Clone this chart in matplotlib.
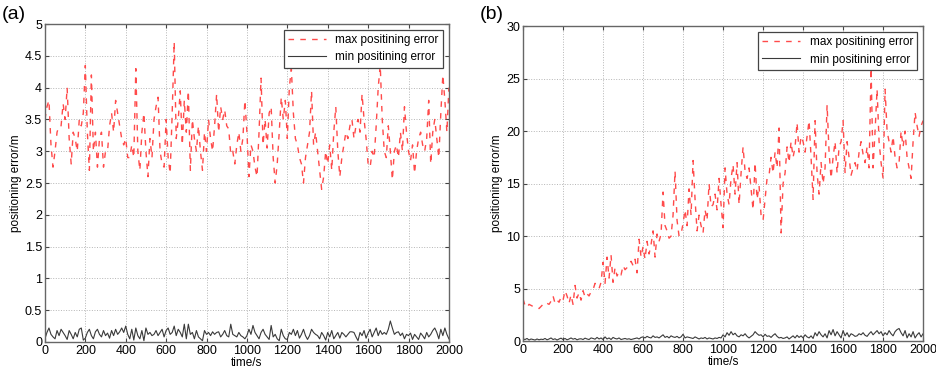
import numpy as np
import matplotlib.pyplot as plt

plt.rcParams['font.family'] = ['Liberation Sans', 'DejaVu Sans']

# time axis, one sample every 10 s
time_s = list(range(0, 2001, 10))

# (a) max / min positioning error
max_err_a = [
    3.5, 3.7, 3.8, 3.1, 2.75, 3.0, 3.3, 3.4, 3.4, 3.75,
    3.5, 4.0, 3.2, 2.8, 3.3, 3.2, 3.0, 3.5, 3.4, 3.6,
    4.35, 3.3, 2.7, 4.2, 3.0, 3.3, 2.75, 3.2, 3.3, 2.75,
    3.0, 3.0, 3.4, 3.6, 3.3, 3.8, 3.6, 3.4, 3.2, 3.1,
    3.2, 2.9, 2.9, 3.1, 2.9, 4.3, 3.0, 2.7, 3.3, 3.6,
    3.0, 2.6, 3.2, 2.9, 3.5, 3.7, 3.85, 3.0, 2.8, 2.75,
    3.5, 2.9, 2.65, 3.6, 4.72, 3.2, 3.5, 3.95, 3.1, 3.8,
    3.3, 3.95, 2.7, 3.5, 3.2, 3.0, 3.4, 3.0, 2.7, 3.3,
    3.0, 3.5, 3.2, 3.0, 3.4, 3.9, 3.3, 3.7, 3.5, 3.65,
    3.4, 3.35, 2.95, 3.0, 2.8, 3.1, 3.3, 3.0, 3.2, 3.8,
    3.3, 2.6, 3.1, 3.0, 2.75, 2.6, 3.3, 4.15, 3.1, 3.5,
    3.05, 3.6, 3.7, 2.9, 2.5, 2.8, 3.3, 3.85, 3.5, 3.8,
    3.2, 4.0, 4.3, 3.6, 3.2, 3.1, 2.9, 2.8, 2.5, 2.9,
    3.1, 3.3, 3.95, 3.1, 3.3, 3.0, 2.7, 2.4, 2.6, 3.0,
    2.8, 3.1, 2.7, 3.3, 3.7, 3.0, 2.6, 2.9, 3.1, 3.3,
    3.2, 3.4, 3.5, 3.2, 3.4, 3.5, 3.3, 3.9, 3.5, 3.2,
    2.8, 2.75, 3.0, 2.9, 3.4, 4.0, 4.35, 3.5, 3.0, 2.9,
    3.4, 3.0, 2.55, 3.0, 3.1, 2.9, 3.3, 3.0, 3.7, 3.3,
    3.0, 2.85, 3.1, 2.65, 3.0, 3.2, 3.3, 3.1, 3.0, 3.2,
    3.8, 2.8, 3.3, 3.5, 3.2, 2.9, 3.6, 4.2, 3.8, 3.3,
    4.0,
]
min_err_a = [
    0.05, 0.15, 0.22, 0.12, 0.08, 0.05, 0.18, 0.1, 0.2, 0.15,
    0.1, 0.04, 0.18, 0.12, 0.05, 0.15, 0.08, 0.2, 0.22, 0.03,
    0.06, 0.15, 0.2, 0.1, 0.05, 0.16, 0.2, 0.12, 0.08, 0.18,
    0.1, 0.14, 0.06, 0.18, 0.1, 0.2, 0.12, 0.16, 0.22, 0.15,
    0.25, 0.12, 0.05, 0.2, 0.03, 0.22, 0.1, 0.05, 0.18, 0.02,
    0.22, 0.12, 0.15, 0.1, 0.12, 0.18, 0.1, 0.15, 0.2, 0.08,
    0.18, 0.22, 0.12, 0.15, 0.25, 0.1, 0.2, 0.15, 0.08, 0.28,
    0.05, 0.28, 0.12, 0.15, 0.05, 0.18, 0.08, 0.05, 0.02, 0.18,
    0.12, 0.15, 0.1, 0.16, 0.12, 0.15, 0.16, 0.08, 0.12, 0.18,
    0.1, 0.08, 0.28, 0.12, 0.1, 0.08, 0.15, 0.1, 0.08, 0.05,
    0.1, 0.2, 0.12, 0.26, 0.15, 0.1, 0.05, 0.15, 0.2, 0.12,
    0.08, 0.04, 0.26, 0.08, 0.12, 0.05, 0.02, 0.2, 0.1, 0.05,
    0.04, 0.15, 0.12, 0.2, 0.1, 0.18, 0.06, 0.12, 0.2, 0.1,
    0.04, 0.1, 0.2, 0.15, 0.12, 0.1, 0.05, 0.15, 0.1, 0.03,
    0.15, 0.08, 0.18, 0.05, 0.1, 0.15, 0.06, 0.15, 0.12, 0.08,
    0.12, 0.16, 0.16, 0.15, 0.08, 0.02, 0.15, 0.1, 0.18, 0.06,
    0.14, 0.2, 0.08, 0.15, 0.22, 0.1, 0.18, 0.12, 0.15, 0.12,
    0.2, 0.33, 0.22, 0.12, 0.15, 0.16, 0.1, 0.14, 0.05, 0.12,
    0.1, 0.14, 0.04, 0.12, 0.08, 0.04, 0.14, 0.1, 0.05, 0.15,
    0.08, 0.12, 0.18, 0.22, 0.15, 0.05, 0.2, 0.1, 0.22, 0.12,
    0.05,
]

# (b) max / min positioning error
max_err_b = [
    4.0, 3.4, 3.2, 3.5, 3.4, 3.3, 3.2, 3.2, 3.1, 3.3,
    3.5, 3.4, 3.6, 3.5, 3.8, 4.3, 3.6, 3.9, 3.7, 4.2,
    3.9, 4.8, 4.3, 3.6, 4.4, 3.5, 5.3, 4.1, 4.6, 3.9,
    4.8, 4.2, 4.5, 4.3, 4.7, 4.9, 5.5, 5.2, 5.0, 5.6,
    7.5, 5.5, 8.0, 6.0, 8.2, 5.6, 7.0, 6.2, 6.6, 6.3,
    7.2, 6.8, 7.0, 7.3, 7.6, 7.2, 7.8, 6.5, 9.7, 8.0,
    9.0, 7.8, 9.5, 8.3, 9.2, 10.5, 8.0, 10.2, 9.5, 10.2,
    14.2, 11.0, 10.5, 9.8, 10.0, 12.0, 16.2, 11.5, 10.0, 10.2,
    11.2, 12.5, 11.0, 14.5, 12.0, 17.2, 13.5, 10.5, 12.0, 11.0,
    10.3, 12.5, 11.5, 15.0, 12.8, 13.0, 14.0, 12.5, 15.5, 13.0,
    10.8, 16.5, 14.0, 13.0, 15.5, 16.8, 14.0, 17.0, 13.0, 16.0,
    18.5, 16.2, 15.5, 16.5, 14.5, 12.5, 17.0, 13.5, 14.8, 12.0,
    11.5, 13.5, 15.5, 15.8, 17.5, 16.0, 18.0, 16.5, 20.3, 10.3,
    15.0, 16.0, 18.5, 17.0, 19.0, 17.5, 18.5, 20.8, 18.0, 19.5,
    19.0, 18.0, 19.5, 21.0, 17.5, 13.5, 21.0, 16.0, 14.0, 17.0,
    15.0, 16.5, 22.5, 18.0, 15.5, 17.5, 19.0, 16.0, 18.5, 19.0,
    21.0, 16.0, 19.0, 17.5, 15.8, 16.5, 17.0, 16.2, 18.0, 19.0,
    17.8, 17.0, 18.5, 16.5, 26.0, 16.5, 20.0, 24.0, 19.0, 17.0,
    15.5, 24.0, 20.0, 19.0, 18.0, 19.5, 17.5, 16.5, 17.0, 20.0,
    18.5, 20.0, 17.5, 16.5, 15.5, 19.0, 21.8, 20.5, 19.5, 20.5,
    21.0,
]
min_err_b = [
    0.2, 0.15, 0.25, 0.1, 0.2, 0.15, 0.1, 0.2, 0.12, 0.18,
    0.15, 0.25, 0.12, 0.2, 0.3, 0.15, 0.22, 0.1, 0.2, 0.28,
    0.15, 0.25, 0.12, 0.2, 0.3, 0.18, 0.25, 0.12, 0.2, 0.22,
    0.15, 0.28, 0.2, 0.15, 0.3, 0.25, 0.18, 0.35, 0.2, 0.3,
    0.15, 0.4, 0.2, 0.3, 0.15, 0.35, 0.25, 0.2, 0.3, 0.15,
    0.2, 0.25, 0.18, 0.22, 0.15, 0.2, 0.25, 0.3, 0.2, 0.35,
    0.4, 0.3, 0.45, 0.35, 0.3, 0.5, 0.35, 0.4, 0.3, 0.45,
    0.6, 0.35, 0.45, 0.3, 0.5, 0.4, 0.35, 0.45, 0.3, 0.4,
    0.65, 0.3, 0.4, 0.35, 0.3, 0.25, 0.4, 0.3, 0.2, 0.3,
    0.25, 0.35, 0.2, 0.3, 0.25, 0.2, 0.3, 0.25, 0.35, 0.3,
    0.6, 0.4, 0.8, 0.55, 0.9, 0.6, 0.75, 0.5, 0.4, 0.6,
    0.5, 0.7, 0.45, 0.3, 0.45, 0.6, 0.9, 0.7, 0.55, 0.6,
    0.4, 0.65, 0.45, 0.5, 0.35, 0.55, 0.7, 0.45, 0.3, 0.35,
    0.25, 0.3, 0.4, 0.2, 0.35, 0.5, 0.3, 0.55, 0.35, 0.5,
    0.3, 0.6, 0.4, 0.3, 0.5, 0.25, 0.8, 0.5, 0.9, 0.6,
    0.4, 0.7, 0.3, 1.0, 0.6, 1.1, 0.5, 0.9, 0.6, 0.3,
    1.0, 0.5, 0.8, 0.4, 0.7, 0.6, 0.45, 0.5, 0.7, 0.6,
    0.8, 0.55, 0.45, 0.7, 0.9, 0.6, 0.8, 1.0, 0.7, 0.9,
    0.5, 0.8, 0.6, 1.0, 0.7, 0.5, 0.9, 1.1, 1.2, 0.8,
    0.5, 1.0, 0.3, 0.7, 0.4, 0.9, 0.3, 0.6, 0.8, 0.4,
    0.7,
]

panels = [
    ("(a)", max_err_a, min_err_a, np.arange(0, 5.01, 0.5), 5,
     ["0", "0.5", "1", "1.5", "2", "2.5", "3", "3.5", "4", "4.5", "5"],
     [0.048, 0.0856, 0.4316, 0.850]),
    ("(b)", max_err_b, min_err_b, np.arange(0, 31, 5), 30,
     ["0", "5", "10", "15", "20", "25", "30"],
     [0.5588, 0.088, 0.4274, 0.842]),
]

fig = plt.figure(figsize=(9.36, 3.74), dpi=100)

for tag, mx, mn, yt, ytop, ylab, pos in panels:
    ax = fig.add_axes(pos)
    ax.plot(time_s, mx, color="#ff4a4a", lw=1.0, ls=(0, (4, 4.5)),
            label="max positining error")
    ax.plot(time_s, mn, color="#3a3a3a", lw=0.8, label="min positining error")
    ax.set_xlim(0, 2000)
    ax.set_ylim(0, ytop)
    ax.set_xticks(range(0, 2001, 200))
    ax.set_yticks(yt)
    ax.set_yticklabels(ylab)
    ax.tick_params(direction="in", top=True, right=True, labelsize=9,
                   length=3, pad=2, color="#444444")
    ax.grid(True, ls=":", color="#b5b5b5", lw=0.7)
    for sp in ax.spines.values():
        sp.set_color("#666666")
        sp.set_linewidth(1.0)
    ax.set_xlabel("time/s", fontsize=8.5, labelpad=0)
    ax.set_ylabel("positioning error/m", fontsize=8.5, labelpad=2)
    leg = ax.legend(loc="upper right", fontsize=8.5, fancybox=False,
                    framealpha=1, edgecolor="#444444", borderpad=0.35,
                    handlelength=3.2, labelspacing=0.45,
                    borderaxespad=0.5)
    leg.get_frame().set_linewidth(0.9)
    fig.text(pos[0] - 0.046, 0.985, tag, fontsize=14, va="top", ha="left")

fig.savefig("out.png", dpi=100)
